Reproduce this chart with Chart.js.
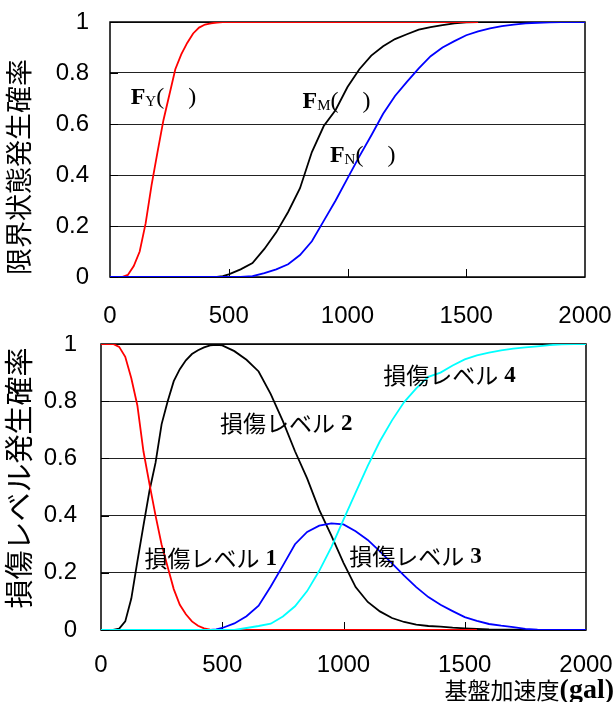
<!DOCTYPE html>
<html lang="ja">
<head>
<meta charset="UTF-8">
<title>限界状態発生確率と損傷レベル発生確率</title>
<script src="https://cdn.jsdelivr.net/npm/chart.js"></script>
<style>
  body { margin: 0; background: #fff; }
  canvas { display: block; }
</style>
</head>
<body>
<canvas id="limitChart" width="616" height="335"></canvas>
<canvas id="damageChart" width="616" height="367"></canvas>

<script>
// 基盤加速度 (gal): 25 gal steps up to 500, then 50 gal steps
const gal = [0, 25, 50, 75, 100, 125, 150, 175, 200, 225, 250, 275, 300, 325, 350, 375, 400, 425, 450, 475, 500,
             550, 600, 650, 700, 750, 800, 850, 900, 950, 1000, 1050, 1100, 1150, 1200, 1250, 1300, 1350, 1400,
             1450, 1500, 1550, 1600, 1650, 1700, 1750, 1800, 1850, 1900, 1950, 2000];

// 限界状態発生確率
const fY = [0, 0, 0, 0.008, 0.043, 0.10, 0.21, 0.36, 0.49, 0.615, 0.715, 0.815, 0.873, 0.918, 0.955, 0.978, 0.99, 0.995, 0.998, 1, 1,
            1, 1, 1, 1, 1, 1, 1, 1, 1, 1, 1, 1, 1, 1, 1, 1, 1, 1, 1, 1, 1,
            null, null, null, null, null, null, null, null, null];
const fM = [0, 0, 0, 0, 0, 0, 0, 0, 0, 0, 0, 0, 0, 0, 0, 0, 0, 0, 0, 0.003, 0.01,
            0.03, 0.055, 0.11, 0.175, 0.255, 0.348, 0.49, 0.592, 0.655, 0.745, 0.815, 0.868, 0.905, 0.933, 0.952, 0.97,
            0.98, 0.988, 0.995, 0.999, 1, 1, 1, 1, 1, 1, 1, 1, null, null];
const fN = [0, 0, 0, 0, 0, 0, 0, 0, 0, 0, 0, 0, 0, 0, 0, 0, 0, 0, 0, 0, 0,
            0, 0.003, 0.015, 0.03, 0.05, 0.086, 0.14, 0.22, 0.30, 0.387, 0.473, 0.555, 0.64, 0.71, 0.765, 0.818,
            0.866, 0.9, 0.925, 0.948, 0.963, 0.975, 0.984, 0.99, 0.995, 0.997, 0.999, 1, 1, 1];

// 損傷レベル発生確率
const level1 = [1, 1, 1, 0.99, 0.955, 0.88, 0.785, 0.625, 0.51, 0.40, 0.298, 0.22, 0.143, 0.088, 0.055, 0.03, 0.015, 0.006, 0.001, 0, 0,
                0, 0, 0, 0, 0, 0, 0, 0, 0, 0, 0, 0, 0, 0, 0, 0, 0, 0, 0, 0, 0,
                null, null, null, null, null, null, null, null, null];
const level2 = [0, 0, 0, 0.005, 0.03, 0.11, 0.24, 0.365, 0.487, 0.585, 0.72, 0.80, 0.87, 0.912, 0.943, 0.965, 0.978, 0.988, 0.995, 0.997, 0.995,
                0.975, 0.945, 0.904, 0.825, 0.73, 0.625, 0.53, 0.42, 0.33, 0.235, 0.15, 0.098, 0.065, 0.042, 0.028, 0.019,
                0.014, 0.012, 0.008, 0.006, 0.004, 0.002, 0.001, 0.001, 0, 0, 0, 0, null, null];
const level3 = [0, 0, 0, 0, 0, 0, 0, 0, 0, 0, 0, 0, 0, 0, 0, 0, 0, 0, 0, 0.002, 0.007,
                0.023, 0.048, 0.085, 0.152, 0.225, 0.30, 0.343, 0.365, 0.373, 0.369, 0.345, 0.315, 0.275, 0.233, 0.19, 0.15,
                0.115, 0.088, 0.066, 0.045, 0.032, 0.021, 0.015, 0.01, 0.004, 0.001, 0, 0, 0, 0];
const level4 = [0, 0, 0, 0, 0, 0, 0, 0, 0, 0, 0, 0, 0, 0, 0, 0, 0, 0, 0, 0, 0,
                0, 0.007, 0.014, 0.022, 0.047, 0.083, 0.136, 0.207, 0.29, 0.386, 0.48, 0.574, 0.66, 0.733, 0.797, 0.845,
                0.885, 0.9, 0.925, 0.946, 0.96, 0.97, 0.978, 0.984, 0.988, 0.992, 0.996, 0.999, 1, 1];

// curve labels (data coordinates)
const limitNoteSub = ['Y', 'M', 'N'];
const limitNoteGal = [87, 811, 926];
const limitNoteProb = [0.702, 0.686, 0.476];
const damageNoteNum = ['1', '2', '3', '4'];
const damageNoteGal = [179, 491, 1024, 1164];
const damageNoteProb = [0.252, 0.724, 0.259, 0.89];

const SANS = "'Liberation Sans', Arial, sans-serif";
const SERIF = "'Liberation Serif', 'Times New Roman', serif";
const CJK = "'Noto Sans CJK JP', sans-serif";

function pts(values) {
    return gal.map((g, i) => ({ x: g, y: values[i] }));
}

function line(values, color, order) {
    return {
        data: pts(values),
        borderColor: color,
        borderWidth: 1.8,
        pointRadius: 0,
        tension: 0,
        spanGaps: false,
        order: order
    };
}

// frame and the short inner tick marks
const frameTicks = {
    id: 'frameTicks',
    beforeDatasetsDraw(chart) {
        const { ctx, chartArea: a, scales: { x, y } } = chart;
        ctx.save();
        ctx.strokeStyle = '#000';
        ctx.lineWidth = 1.5;
        ctx.strokeRect(a.left, a.top, a.right - a.left, a.bottom - a.top);
        ctx.lineWidth = 1;
        ctx.beginPath();
        x.ticks.forEach(t => {
            if (t.value > x.min && t.value < x.max) {
                const px = Math.round(x.getPixelForValue(t.value)) + 0.5;
                ctx.moveTo(px, a.bottom);
                ctx.lineTo(px, a.bottom - 8);
            }
        });
        y.ticks.forEach(t => {
            const py = Math.round(y.getPixelForValue(t.value)) + 0.5;
            ctx.moveTo(a.left, py);
            ctx.lineTo(a.left + 8, py);
        });
        ctx.stroke();
        ctx.restore();
    }
};

// draws a run of text pieces in mixed fonts
function drawParts(ctx, parts, px, py) {
    parts.forEach(p => {
        ctx.font = p.font;
        ctx.fillText(p.text, px, py + (p.dy || 0));
        px += ctx.measureText(p.text).width + (p.gap || 0);
    });
    return px;
}

function partsWidth(ctx, parts) {
    let w = 0;
    parts.forEach(p => {
        ctx.font = p.font;
        w += ctx.measureText(p.text).width + (p.gap || 0);
    });
    return w;
}

// text pieces placed at data coordinates
const notes = {
    id: 'notes',
    afterDatasetsDraw(chart, args, o) {
        const { ctx, scales: { x, y } } = chart;
        ctx.save();
        ctx.fillStyle = '#000';
        ctx.textBaseline = 'middle';
        ctx.textAlign = 'left';
        o.items.forEach(item => {
            drawParts(ctx, item.parts, x.getPixelForValue(item.x), y.getPixelForValue(item.y));
        });
        ctx.restore();
    }
};

// axis titles
const axisTitles = {
    id: 'axisTitles',
    afterDraw(chart, args, o) {
        const ctx = chart.ctx;
        ctx.save();
        ctx.fillStyle = '#000';
        ctx.textBaseline = 'middle';
        ctx.translate(o.yX, o.yY);
        ctx.rotate(-Math.PI / 2);
        ctx.textAlign = 'center';
        ctx.font = o.yFont;
        ctx.fillText(o.yText, 0, 0);
        ctx.restore();
        if (o.xParts) {
            ctx.save();
            ctx.fillStyle = '#000';
            ctx.textBaseline = 'middle';
            ctx.textAlign = 'left';
            drawParts(ctx, o.xParts, o.xRight - partsWidth(ctx, o.xParts), o.xY);
            ctx.restore();
        }
    }
};

function options(cfg) {
    return {
        responsive: false,
        animation: false,
        layout: { padding: cfg.padding },
        plugins: {
            legend: { display: false },
            tooltip: { enabled: false },
            notes: { items: cfg.notes },
            axisTitles: cfg.titles
        },
        scales: {
            x: {
                type: 'linear', min: 0, max: 2000,
                ticks: {
                    stepSize: 500, padding: cfg.xPad, color: '#000',
                    font: { family: SANS, size: 24 },
                    callback: v => String(v)
                },
                grid: { display: false, drawTicks: false },
                border: { display: false },
                afterFit: s => { s.height = cfg.xHeight; s.paddingLeft = 0; s.paddingRight = 0; }
            },
            y: {
                min: 0, max: 1,
                ticks: {
                    stepSize: 0.2, padding: cfg.yPad, color: '#000',
                    font: { family: SANS, size: 24 },
                    callback: v => String(Math.round(v * 10) / 10)
                },
                grid: { color: '#222', lineWidth: 1, drawTicks: false },
                border: { display: false },
                afterFit: s => { s.width = cfg.yWidth; s.paddingTop = 0; s.paddingBottom = 0; }
            }
        }
    };
}

const limitNotes = limitNoteSub.map((s, i) => ({
    x: limitNoteGal[i], y: limitNoteProb[i],
    parts: [
        { text: 'F', font: 'bold 24px ' + SERIF },
        { text: s, font: '15px ' + SERIF, dy: 4 },
        { text: '(    )', font: '24px ' + SERIF }
    ]
}));

const damageNotes = damageNoteNum.map((n, i) => ({
    x: damageNoteGal[i], y: damageNoteProb[i],
    parts: [
        { text: '損傷レベル', font: '23px ' + CJK, gap: 6 },
        { text: n, font: 'bold 23px ' + SERIF, dy: 1 }
    ]
}));

new Chart(document.getElementById('limitChart'), {
    type: 'line',
    data: {
        datasets: [
            line(fN, '#0000ff', 0),
            line(fY, '#ff0000', 1),
            line(fM, '#000000', 2)
        ]
    },
    options: options({
        padding: { left: 0, right: 31, top: 22, bottom: 0 },
        xHeight: 58, yWidth: 110, xPad: 25, yPad: 21,
        notes: limitNotes,
        titles: { yText: '限界状態発生確率', yFont: '27px ' + CJK, yX: 19, yY: 167 }
    }),
    plugins: [frameTicks, notes, axisTitles]
});

new Chart(document.getElementById('damageChart'), {
    type: 'line',
    data: {
        datasets: [
            line(level4, '#00ffff', 0),
            line(level1, '#ff0000', 1),
            line(level3, '#0000ff', 2),
            line(level2, '#000000', 3)
        ]
    },
    options: options({
        padding: { left: 0, right: 30, top: 9, bottom: 0 },
        xHeight: 72, yWidth: 101, xPad: 21, yPad: 24,
        notes: damageNotes,
        titles: {
            yText: '損傷レベル発生確率', yFont: '29px ' + CJK, yX: 19, yY: 143,
            xRight: 614, xY: 355,
            xParts: [
                { text: '基盤加速度', font: '23px ' + CJK },
                { text: '(gal)', font: 'bold 28px ' + SERIF, dy: 1 }
            ]
        }
    }),
    plugins: [frameTicks, notes, axisTitles]
});
</script>
</body>
</html>
